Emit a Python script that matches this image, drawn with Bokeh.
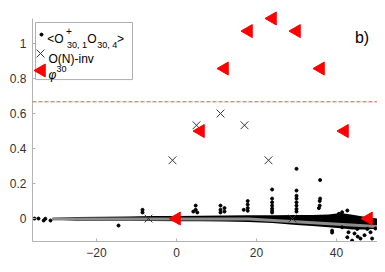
import math
from bokeh.plotting import figure
from bokeh.models import Range1d, FixedTicker, NumeralTickFormatter, Span, Label
from bokeh.embed import file_html
from bokeh.resources import INLINE

# ---------------- data ----------------
phi_x = [0, 6, 12, 18, 24, 30, 36, 42, 48]
phi_y = [0.0, 0.5, 0.857, 1.071, 1.143, 1.071, 0.857, 0.5, 0.0]

inv_x = [-7, -1, 5, 11, 17, 23, 29]
inv_y = [0.0, 0.333, 0.533, 0.6, 0.533, 0.333, 0.0]

threshold = 0.667

# dense correlator band (upper / lower envelope) and its grey mean
band_x  = [-31, -25, -18, -12, -6, 0, 6, 12, 18, 24, 30, 34, 38, 41, 44, 47, 50.25]
band_hi = [0.005, 0.009, 0.010, 0.012, 0.014, 0.015, 0.016, 0.017, 0.019, 0.019,
           0.021, 0.021, 0.023, 0.032, 0.022, 0.010, 0.0]
band_lo = [-0.006, -0.012, -0.013, -0.013, -0.014, -0.015, -0.016, -0.017, -0.019,
           -0.025, -0.037, -0.043, -0.050, -0.056, -0.062, -0.062, -0.058]
trend_x = [-31, 18, 50.25]
trend_y = [-0.002, -0.003, -0.046]

# isolated correlator points (spikes and outliers)
spike_x = [-35.5, -34.5, -33.2, -32.8, -31.5, -14.5, -8.5, -8.5,
           4.2, 4.8, 4.8, 5.2, 11.0, 11.0, 11.0, 12.0, 12.0,
           16.8, 17.8, 17.8, 17.8, 17.8,
           23.9, 23.9, 23.9, 23.9, 23.9, 23.9, 23.9,
           30.0, 30.0, 30.0, 30.0, 30.0, 30.0, 30.0, 30.0,
           35.9, 35.9, 35.8, 35.8, 35.6,
           40.6, 41.4, 42.7, 38.9, 38.9, 41.4, 42.7, 43.0, 43.9,
           45.2, 45.3, 46.0, 47.7, 48.5, 48.9, 49.75, 44.5, 47.0]
spike_y = [0.0, 0.0, -0.011, -0.001, -0.011, -0.04, 0.05, 0.035,
           0.04, 0.074, 0.05, 0.035, 0.074, 0.05, 0.035, 0.06, 0.04,
           0.05, 0.10, 0.08, 0.06, 0.045,
           0.166, 0.114, 0.093, 0.074, 0.057, 0.045, 0.035,
           0.284, 0.16, 0.13, 0.114, 0.093, 0.074, 0.055, 0.04,
           0.22, 0.114, 0.10, 0.074, 0.06,
           0.027, 0.036, 0.046, -0.069, -0.08, -0.05, -0.107, -0.078, -0.126,
           -0.059, -0.103, -0.114, -0.059, -0.078, -0.114, -0.057, -0.085, -0.095]

x_ticks = [-20, 0, 20, 40]
y_ticks = [0, 0.2, 0.4, 0.6, 0.8, 1]

FONT = "Liberation Sans"

p = figure(width=377, height=264,
           x_range=Range1d(-36, 50.25), y_range=Range1d(-0.131, 1.2),
           output_backend="svg", toolbar_location=None,
           min_border_left=32, min_border_right=0, min_border_top=8, min_border_bottom=23)
p.outline_line_color = None
p.grid.visible = False
p.background_fill_color = "white"

for ax in (p.xaxis[0], p.yaxis[0]):
    ax.axis_line_color = "#b3b3b3"
    ax.major_tick_line_color = "#b3b3b3"
    ax.minor_tick_line_color = None
    ax.major_tick_in = 3
    ax.major_tick_out = 0
    ax.major_label_text_font = FONT
    ax.major_label_text_font_size = "12px"
    ax.major_label_text_color = "#333333"
p.xaxis[0].ticker = FixedTicker(ticks=x_ticks)
p.yaxis[0].ticker = FixedTicker(ticks=y_ticks)
p.yaxis[0].formatter = NumeralTickFormatter(format="0.[0]")
p.yaxis[0].bounds = (-0.131, 1.143)
p.xaxis[0].major_label_standoff = 6
p.yaxis[0].major_label_standoff = 6

# ---------------- legend box (drawn first, under everything) ----------------
p.quad(left=[-35.25], right=[-11], top=[1.12], bottom=[0.794],
       fill_color="white", line_color="#b0b0b0", line_width=1)

# band + grey mean + isolated points
p.varea(x=band_x, y1=band_lo, y2=band_hi, fill_color="black")
p.line(trend_x, trend_y, line_color="#8c8c8c", line_width=3)
p.scatter(spike_x, spike_y, size=3, fill_color="black", line_color="black")

# threshold line
p.add_layout(Span(location=threshold, dimension="width", line_color="#e83030",
                  line_alpha=0.85, line_width=1, line_dash="4 2"))

# O(N)-inv crosses
p.scatter(inv_x, inv_y, marker="x", size=11, line_color="#333333", line_width=1)

# phi^30 triangles (pointing left)
p.scatter(phi_x, phi_y, marker="triangle", angle=math.pi / 2, size=13,
          fill_color="red", line_color="red")

# ---------------- legend swatches and texts ----------------
p.scatter([-33.75], [1.051], size=3, fill_color="black", line_color="black")
p.scatter([-34.0], [0.943], marker="x", size=11, line_color="#333333", line_width=1)
p.scatter([-33.75], [0.846], marker="triangle", angle=math.pi / 2, size=13,
          fill_color="red", line_color="red")

def lab(x, y, text, size="12px", style="normal"):
    p.add_layout(Label(x=x, y=y, text=text, text_font=FONT, text_font_size=size,
                       text_font_style=style, text_baseline="alphabetic",
                       text_color="black"))

lab(-32.3, 1.023, "<O")
lab(-27.6, 1.071, "+", size="10px")
lab(-27.4, 0.989, "30, 1", size="9px")
lab(-22.3, 1.023, "O")
lab(-19.8, 0.989, "30, 4", size="9px")
lab(-14.9, 1.023, ">")

lab(-32.0, 0.914, "O(N)-inv")

lab(-32.0, 0.818, "φ", style="italic")
lab(-30.0, 0.852, "30", size="9px")

# panel tag
p.add_layout(Label(x=44.6, y=1.034, text="b)", text_font=FONT, text_font_size="16px",
                   text_baseline="alphabetic", text_color="black"))

open("out.html", "w").write(file_html(p, INLINE))
